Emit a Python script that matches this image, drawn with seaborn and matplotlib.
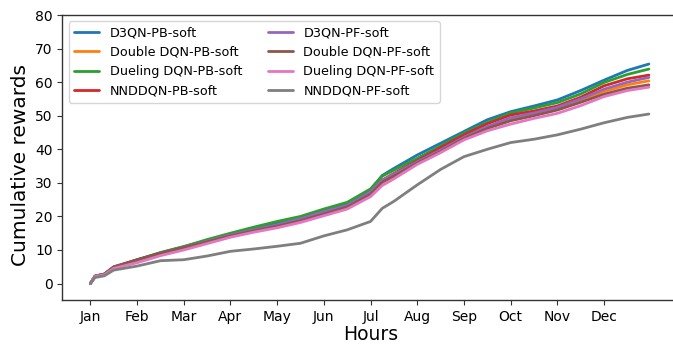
import numpy as np
import pandas as pd
import matplotlib
matplotlib.use("Agg")
import matplotlib.pyplot as plt
import seaborn as sns

# ---- data ----
month_pos = [0, 0.1, 0.3, 0.5, 1, 1.5, 2, 2.5, 3, 3.5, 4, 4.5, 5, 5.5, 6, 6.25,
             6.5, 7, 7.5, 8, 8.5, 9, 9.5, 10, 10.5, 11, 11.5, 11.96]
hours_per_month = 730

series_names = ["D3QN-PB-soft", "Double DQN-PB-soft", "Dueling DQN-PB-soft",
                "NNDDQN-PB-soft", "D3QN-PF-soft", "Double DQN-PF-soft",
                "Dueling DQN-PF-soft", "NNDDQN-PF-soft"]

d3qn_pb = [0, 2.2, 2.8, 4.8, 7.0, 9.2, 11.0, 12.8, 14.6, 16.3, 17.9, 19.4, 21.6, 23.8,
           28.0, 32.2, 34.3, 38.3, 41.8, 45.3, 48.8, 51.2, 52.9, 54.7, 57.5, 60.6, 63.5, 65.4]
double_pb = [0, 2.2, 2.8, 4.9, 6.9, 8.9, 10.6, 12.3, 14.1, 15.6, 17.0, 18.6, 20.6, 22.6,
             26.5, 30.2, 31.8, 35.8, 39.4, 43.4, 46.5, 49.0, 50.4, 52.0, 54.5, 57.2, 59.2, 60.4]
dueling_pb = [0, 2.2, 2.8, 4.8, 7.1, 9.2, 11.0, 13.1, 15.0, 16.8, 18.5, 20.0, 22.2, 24.2,
              28.2, 32.0, 33.8, 37.3, 41.0, 44.8, 48.0, 50.8, 52.3, 53.9, 56.5, 59.9, 62.3, 63.9]
nnddqn_pb = [0, 2.2, 2.8, 4.9, 7.0, 9.0, 10.7, 12.5, 14.2, 15.8, 17.2, 18.8, 20.9, 23.0,
             27.0, 30.8, 32.8, 36.6, 40.5, 44.3, 47.6, 50.2, 51.4, 52.9, 55.5, 58.9, 61.0, 62.1]
d3qn_pf = [0, 2.2, 2.8, 4.8, 6.8, 8.9, 10.7, 12.6, 14.5, 16.0, 17.5, 19.3, 21.4, 23.3,
           27.3, 30.8, 32.6, 36.3, 39.8, 43.6, 46.8, 49.4, 50.8, 52.5, 55.0, 57.9, 60.0, 61.4]
double_pf = [0, 2.2, 2.8, 5.0, 7.1, 9.0, 10.7, 12.4, 14.2, 15.7, 17.1, 18.7, 20.7, 22.8,
             26.6, 30.2, 32.0, 35.9, 39.3, 43.2, 46.2, 48.5, 50.0, 51.7, 54.0, 56.4, 58.2, 59.2]
dueling_pf = [0, 2.1, 2.6, 4.5, 6.2, 8.3, 10.0, 11.9, 13.8, 15.3, 16.6, 18.2, 20.2, 22.2,
              25.9, 29.2, 31.2, 35.5, 39.0, 42.8, 45.5, 47.5, 49.2, 50.7, 53.0, 55.7, 57.5, 58.5]
nnddqn_pf = [0, 1.8, 2.3, 4.0, 5.2, 6.8, 7.1, 8.2, 9.6, 10.3, 11.1, 12.0, 14.2, 16.0,
             18.5, 22.4, 24.5, 29.4, 34.0, 37.8, 40.0, 42.0, 43.0, 44.3, 46.0, 47.9, 49.5, 50.5]

month_labels = ["Jan", "Feb", "Mar", "Apr", "May", "Jun",
                "Jul", "Aug", "Sep", "Oct", "Nov", "Dec"]
y_ticks = [0, 10, 20, 30, 40, 50, 60, 70, 80]

# ---- build long table ----
all_values = [d3qn_pb, double_pb, dueling_pb, nnddqn_pb,
              d3qn_pf, double_pf, dueling_pf, nnddqn_pf]
hours = np.array(month_pos) * hours_per_month
frames = []
for name, vals in zip(series_names, all_values):
    frames.append(pd.DataFrame({"Hours": hours, "reward": vals, "series": name}))
df = pd.concat(frames, ignore_index=True)

# ---- plot ----
sns.set_style("white")
plt.rcParams["font.family"] = ["DejaVu Sans"]
plt.rcParams["text.color"] = "black"
plt.rcParams["axes.labelcolor"] = "black"
plt.rcParams["xtick.color"] = "black"
plt.rcParams["ytick.color"] = "black"

fig = plt.figure(figsize=(6.73, 3.46), dpi=100)
ax = fig.add_axes([0.0926, 0.132, 0.916, 0.8246])

palette = sns.color_palette("tab10", 8)
sns.lineplot(data=df, x="Hours", y="reward", hue="series", hue_order=series_names,
             palette=palette, linewidth=2, ax=ax)

ax.set_xlim(-438, 9198)
ax.set_ylim(-5, 80)
ax.set_xticks(np.arange(len(month_labels)) * hours_per_month)
ax.set_xticklabels(month_labels, fontsize=10)
ax.set_yticks(y_ticks)
ax.set_yticklabels([str(v) for v in y_ticks], fontsize=10)
ax.tick_params(axis="both", which="major", direction="out", length=3.5, width=0.8,
               color="#333333", bottom=True, left=True)
ax.set_xlabel("Hours", fontsize=13.5, labelpad=1)
ax.set_ylabel("Cumulative rewards", fontsize=14.5)
ax.yaxis.set_label_coords(-0.052, 0.474)
for s in ax.spines.values():
    s.set_color("#333333")
    s.set_linewidth(1.0)
ax.spines["right"].set_visible(False)

ax.legend(loc="upper left", ncol=2, fontsize=9.2, frameon=True,
          bbox_to_anchor=(0.0, 1.0), borderaxespad=0.5)

fig.savefig("out.png", dpi=100)
